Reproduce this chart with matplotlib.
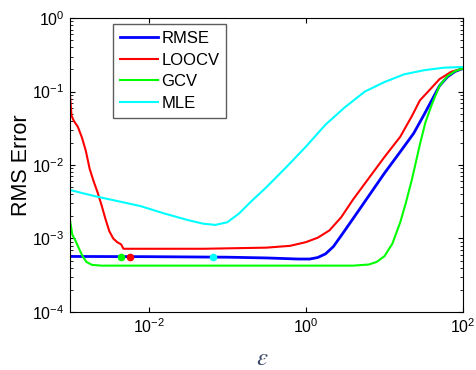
import matplotlib
matplotlib.use("Agg")
import matplotlib.pyplot as plt
from matplotlib.ticker import LogLocator, NullLocator, FixedLocator

plt.rcParams['font.family'] = ['Liberation Sans', 'DejaVu Sans']

# shape parameter epsilon and error curves
rmse_eps = [0.001, 0.01, 0.1, 0.3162, 0.7943, 1.122, 1.413, 1.778, 2.239, 2.818, 3.981,
            6.310, 10.0, 15.85, 23.44, 31.62, 39.81, 50.12, 63.10, 79.43, 100]
rmse_err = [5.69e-4, 5.65e-4, 5.56e-4, 5.43e-4, 5.25e-4, 5.25e-4, 5.50e-4, 6.17e-4, 7.76e-4,
            1.096e-3, 1.862e-3, 3.80e-3, 7.76e-3, 1.514e-2, 2.692e-2, 4.786e-2, 7.586e-2,
            0.1202, 0.1585, 0.1884, 0.2065]

loocv_eps = [0.001, 0.001047, 0.001122, 0.001259, 0.001413, 0.001585, 0.001778, 0.001995,
             0.002239, 0.002512, 0.002818, 0.003162, 0.003548, 0.003981, 0.004467, 0.004786,
             0.05012, 0.3162, 0.631, 1.0, 1.413, 1.995, 2.818, 3.981, 6.310, 10.0, 15.85,
             22.39, 28.18, 38.02, 50.12, 70.79, 100]
loocv_err = [0.0891, 0.04677, 0.03981, 0.03311, 0.02399, 0.01585, 8.91e-3, 6.03e-3,
             4.27e-3, 2.88e-3, 1.862e-3, 1.259e-3, 1.0e-3, 8.91e-4, 8.32e-4, 7.24e-4,
             7.24e-4, 7.5e-4, 7.94e-4, 8.91e-4, 1.023e-3, 1.288e-3, 1.95e-3, 3.39e-3, 6.61e-3,
             1.288e-2, 2.427e-2, 4.677e-2, 7.586e-2, 0.1072, 0.1479, 0.1862, 0.2065]

gcv_eps = [0.001, 0.001072, 0.001175, 0.001318, 0.001445, 0.001622, 0.001905, 0.002512,
           3.981, 6.310, 7.943, 10.0, 12.59, 15.85, 18.62, 22.39, 28.18, 33.11, 39.81,
           50.12, 63.10, 79.43, 100]
gcv_err = [1.778e-3, 1.122e-3, 9.33e-4, 7.08e-4, 5.75e-4, 4.79e-4, 4.37e-4, 4.266e-4,
           4.266e-4, 4.42e-4, 4.79e-4, 5.75e-4, 8.51e-4, 1.66e-3, 3.02e-3, 6.46e-3, 1.905e-2,
           3.80e-2, 6.61e-2, 0.1202, 0.162, 0.1905, 0.2065]

mle_eps = [0.001, 0.001995, 0.003981, 0.007943, 0.01585, 0.03162, 0.05012, 0.07079, 0.1,
           0.1413, 0.1995, 0.3162, 0.5623, 1.0, 1.778, 3.162, 5.623, 10.0, 17.78, 31.62,
           56.23, 100]
mle_err = [4.57e-3, 3.80e-3, 3.236e-3, 2.754e-3, 2.188e-3, 1.778e-3, 1.585e-3, 1.531e-3,
           1.66e-3, 2.188e-3, 3.162e-3, 5.01e-3, 9.33e-3, 1.778e-2, 3.548e-2, 6.166e-2, 0.1,
           0.1349, 0.1718, 0.195, 0.2113, 0.2163]

# chosen epsilon of each criterion, shown at its RMSE
pick_eps = [0.00446, 0.00585, 0.0653]
pick_err = [5.66e-4, 5.66e-4, 5.66e-4]
pick_col = ['#00ff00', '#ff0000', '#00ffff']

fig = plt.figure(figsize=(4.76, 3.70), dpi=100)
ax = fig.add_axes([0.147, 0.157, 0.826, 0.794])

ax.loglog(rmse_eps, rmse_err, color='#0000ff', lw=2.0, label='RMSE')
ax.loglog(loocv_eps, loocv_err, color='#ff0000', lw=1.5, label='LOOCV')
ax.loglog(gcv_eps, gcv_err, color='#00ff00', lw=1.5, label='GCV')
ax.loglog(mle_eps, mle_err, color='#00ffff', lw=1.5, label='MLE')
for e, r, c in zip(pick_eps, pick_err, pick_col):
    ax.plot(e, r, 'o', color=c, ms=4.5, zorder=5)

ax.set_xlim(1e-3, 1e2)
ax.set_ylim(1e-4, 1e0)

ax.xaxis.set_major_locator(FixedLocator([1e-2, 1e0, 1e2]))
ax.xaxis.set_minor_locator(NullLocator())
ax.yaxis.set_major_locator(LogLocator(base=10, numticks=10))
ax.yaxis.set_minor_locator(LogLocator(base=10, subs=range(2, 10), numticks=10))
ax.tick_params(which='both', direction='in', top=True, right=True, labelsize=11.5)
ax.tick_params(which='major', length=3.6, pad=4)
ax.tick_params(which='minor', length=2.2)

ax.set_ylabel('RMS Error', fontsize=15.5)
ax.yaxis.set_label_coords(-0.097, 0.5)
ax.set_xlabel(r'$\varepsilon$', fontsize=18, color='#3a4a6a', math_fontfamily='stix')
ax.xaxis.set_label_coords(0.49, -0.115)

leg = ax.legend(loc='upper left', bbox_to_anchor=(0.110, 0.979), borderaxespad=0,
                fontsize=12, fancybox=False, handlelength=2.3, handletextpad=0.2,
                labelspacing=0.4, borderpad=0.4)
leg.get_frame().set_edgecolor('#333333')
leg.get_frame().set_linewidth(1.0)

plt.savefig('out.png', dpi=100)
